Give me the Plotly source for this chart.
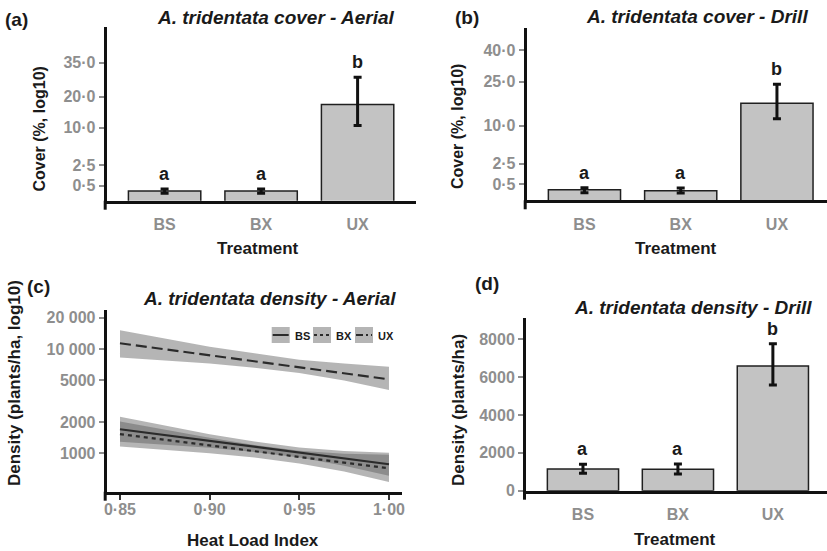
import numpy as np
import plotly.graph_objects as go

# ---------------- data ----------------
treatments = ["BS", "BX", "UX"]

# (a) A. tridentata cover - Aerial (%)
cover_aerial_mean = [0.23, 0.23, 17.2]
cover_aerial_lo = [0.145, 0.145, 10.6]
cover_aerial_hi = [0.32, 0.32, 28.1]
cover_aerial_letters = ["a", "a", "b"]
cover_aerial_ticks = [0.5, 2.5, 10.0, 20.0, 35.0]
cover_aerial_ticklabels = ["0·5", "2·5", "10·0", "20·0", "35·0"]

# (b) A. tridentata cover - Drill (%)
cover_drill_mean = [0.24, 0.20, 16.8]
cover_drill_lo = [0.13, 0.12, 11.9]
cover_drill_hi = [0.33, 0.31, 23.9]
cover_drill_letters = ["a", "a", "b"]
cover_drill_ticks = [0.5, 2.5, 10.0, 25.0, 40.0]
cover_drill_ticklabels = ["0·5", "2·5", "10·0", "25·0", "40·0"]

# (c) A. tridentata density - Aerial (plants/ha) vs Heat Load Index
hli_ends = [0.85, 1.00]
dens_bs_line = [1700, 785]
dens_bx_line = [1530, 718]
dens_ux_line = [11350, 5120]
hli_band = [0.85, 0.875, 0.90, 0.925, 0.95, 0.975, 1.00]
dens_bs_upper = [2240, 1840, 1520, 1300, 1140, 1050, 1010]
dens_bs_lower = [1290, 1210, 1130, 1030, 910, 760, 610]
dens_bx_upper = [2020, 1680, 1410, 1200, 1060, 990, 970]
dens_bx_lower = [1160, 1080, 1000, 910, 800, 670, 530]
dens_ux_upper = [15100, 12600, 10500, 9100, 7900, 7250, 6750]
dens_ux_lower = [8300, 7800, 7250, 6600, 5900, 5000, 4050]
dens_c_ticks = [1000, 2000, 5000, 10000, 20000]
dens_c_ticklabels = ["1000", "2000", "5000", "10 000", "20 000"]
hli_ticks = [0.85, 0.90, 0.95, 1.00]
hli_ticklabels = ["0·85", "0·90", "0·95", "1·00"]

# (d) A. tridentata density - Drill (plants/ha)
dens_drill_mean = [1150, 1130, 6580]
dens_drill_lo = [920, 880, 5580]
dens_drill_hi = [1390, 1410, 7760]
dens_drill_letters = ["a", "a", "b"]
dens_d_ticks = [0, 2000, 4000, 6000, 8000]
dens_d_ticklabels = ["0", "2000", "4000", "6000", "8000"]

# ---------------- style ----------------
W, H = 827, 551
FONT = "Liberation Sans, Arial, sans-serif"
TICKGRAY = "#8e8e8e"
AXCOL = "#111111"
BARFILL = "#c3c3c3"
BAREDGE = "#202020"
BANDFILL = "rgba(90,90,90,0.45)"
LINECOL = "#2b2b2b"


def fx(p):
    return p / W


def fy(p):
    return 1 - p / H


fig = go.Figure()


def add_bars(idx, mean, lo, hi, transform):
    m = transform(np.array(mean, dtype=float))
    l = transform(np.array(lo, dtype=float))
    h = transform(np.array(hi, dtype=float))
    suffix = "" if idx == 1 else str(idx)
    fig.add_trace(go.Bar(
        x=treatments, y=m, width=0.75,
        marker=dict(color=BARFILL, line=dict(color=BAREDGE, width=1.5)),
        error_y=dict(type="data", symmetric=False, array=h - m, arrayminus=m - l,
                     thickness=3, width=4, color=AXCOL),
        xaxis="x" + suffix, yaxis="y" + suffix, showlegend=False,
    ))
    return h


sq = np.sqrt
ident = lambda v: v

h_a = add_bars(1, cover_aerial_mean, cover_aerial_lo, cover_aerial_hi, sq)
h_b = add_bars(2, cover_drill_mean, cover_drill_lo, cover_drill_hi, sq)
h_d = add_bars(4, dens_drill_mean, dens_drill_lo, dens_drill_hi, ident)

# (c) bands and lines
for up, lo in [(dens_bs_upper, dens_bs_lower), (dens_bx_upper, dens_bx_lower),
               (dens_ux_upper, dens_ux_lower)]:
    fig.add_trace(go.Scatter(
        x=hli_band + hli_band[::-1], y=up + lo[::-1], fill="toself",
        fillcolor=BANDFILL, line=dict(width=0), mode="lines",
        xaxis="x3", yaxis="y3", showlegend=False, hoverinfo="skip"))
for yv, dash in [(dens_bs_line, "solid"), (dens_bx_line, "4px,4px"),
                 (dens_ux_line, "11px,5px")]:
    fig.add_trace(go.Scatter(
        x=hli_ends, y=yv, mode="lines",
        line=dict(color=LINECOL, width=2.2, dash=dash),
        xaxis="x3", yaxis="y3", showlegend=False))

# ---------------- axes ----------------
tickfont = dict(family=FONT, size=16, color=TICKGRAY, weight="bold")
catfont = dict(family=FONT, size=16, color=TICKGRAY, weight="bold")

dom = {
    1: dict(x=[106.7, 415.5], y=[27, 200.7]),
    2: dict(x=[526.7, 827], y=[28, 200.3]),
    3: dict(x=[106.7, 401.7], y=[310, 491.7]),
    4: dict(x=[526, 827], y=[318.3, 490.7]),
}


def ax_common():
    return dict(showline=True, linewidth=3, linecolor=AXCOL, showgrid=False,
                zeroline=False, automargin=False)


layout = dict(
    width=W, height=H, margin=dict(l=0, r=0, t=0, b=0),
    paper_bgcolor="white", plot_bgcolor="white", showlegend=False,
    barmode="group", bargap=0.25,
)

for i in (1, 2, 3, 4):
    s = "" if i == 1 else str(i)
    d = dom[i]
    xa = ax_common()
    ya = ax_common()
    xa["domain"] = [fx(d["x"][0]), min(1.0, fx(d["x"][1]))]
    ya["domain"] = [fy(d["y"][1]), fy(d["y"][0])]
    xa["anchor"] = "y" + s
    ya["anchor"] = "x" + s
    ya.update(ticks="outside", ticklen=5, tickwidth=1.5, tickcolor=TICKGRAY,
              tickfont=tickfont)
    layout["xaxis" + s] = xa
    layout["yaxis" + s] = ya

# (a)
layout["xaxis"].update(type="category", range=[-0.6, 2.6], ticks="",
                       tickfont=catfont, ticklabelstandoff=7)
layout["yaxis"].update(range=[0.068, 7.43], tickvals=list(sq(cover_aerial_ticks)),
                       ticktext=cover_aerial_ticklabels)
# (b)
layout["xaxis2"].update(type="category", range=[-0.6, 2.52], ticks="",
                        tickfont=catfont, ticklabelstandoff=7)
layout["yaxis2"].update(range=[0.046, 7.24], tickvals=list(sq(cover_drill_ticks)),
                        ticktext=cover_drill_ticklabels)
# (c)
layout["xaxis3"].update(range=[0.8426, 1.0071], tickvals=hli_ticks,
                        ticktext=hli_ticklabels, ticks="outside", ticklen=5,
                        tickwidth=1.5, tickcolor="#333333", tickfont=tickfont,
                        ticklabelstandoff=-4)
layout["yaxis3"].update(type="log", range=[2.632, 4.374], tickvals=dens_c_ticks,
                        ticktext=dens_c_ticklabels)
# (d)
layout["xaxis4"].update(type="category", range=[-0.6, 2.57], ticks="",
                        tickfont=catfont, ticklabelstandoff=7)
layout["yaxis4"].update(range=[0, 9100], tickvals=dens_d_ticks,
                        ticktext=dens_d_ticklabels)

fig.update_layout(**layout)

# ---------------- annotations ----------------
ann = []


def txt(x, y, text, size, color="#1a1a1a", italic=False, angle=0, xanchor="center"):
    ann.append(dict(
        x=fx(x), y=fy(y), xref="paper", yref="paper", text=text, showarrow=False,
        xanchor=xanchor, yanchor="middle", textangle=angle,
        font=dict(family=FONT, size=size, color=color, weight="bold",
                  style="italic" if italic else "normal")))


# panel labels
txt(3, 20, "(a)", 19, xanchor="left")
txt(453, 18, "(b)", 19, xanchor="left")
txt(25, 286, "(c)", 19, xanchor="left")
txt(473, 283, "(d)", 19, xanchor="left")
# titles
txt(276, 17.5, "A. tridentata cover - Aerial", 19, italic=True)
txt(696.5, 16.5, "A. tridentata cover - Drill", 19, italic=True)
txt(269, 299, "A. tridentata density - Aerial", 19, italic=True)
txt(693, 307, "A. tridentata density - Drill", 19, italic=True)
# axis titles
txt(39, 129.5, "Cover (%, log10)", 16, angle=-90)
txt(458, 126, "Cover (%, log10)", 16, angle=-90)
txt(14, 383, "Density (plants/ha, log10)", 17, angle=-90)
txt(458, 410, "Density (plants/ha)", 17, angle=-90)
txt(257.5, 248, "Treatment", 17)
txt(676, 248, "Treatment", 17)
txt(253, 540, "Heat Load Index", 17)
txt(675, 539, "Treatment", 17)

# significance letters
for s, hi, letters in [("", h_a, cover_aerial_letters), ("2", h_b, cover_drill_letters),
                       ("4", h_d, dens_drill_letters)]:
    for c, v, L in zip(treatments, hi, letters):
        ann.append(dict(x=c, y=float(v), xref="x" + s, yref="y" + s, text=L,
                        showarrow=False, yanchor="middle", yshift=15,
                        font=dict(family=FONT, size=18, color="#1a1a1a", weight="bold")))

# legend for (c)
shapes = []
legend_items = [("BS", "solid", 271.7), ("BX", "3px,3px", 313), ("UX", "7px,3px,2px,3px", 355)]
for name, dash, x0 in legend_items:
    shapes.append(dict(type="rect", xref="paper", yref="paper",
                       x0=fx(x0), x1=fx(x0 + 18), y0=fy(343), y1=fy(327),
                       fillcolor=BANDFILL, line=dict(width=0)))
    shapes.append(dict(type="line", xref="paper", yref="paper",
                       x0=fx(x0 + 1), x1=fx(x0 + 17), y0=fy(335), y1=fy(335),
                       line=dict(color=LINECOL, width=2, dash=dash)))
    txt(x0 + 21, 335.5, name, 11, xanchor="left")

# y-axis line extension below the baseline
for i in (1, 2, 3, 4):
    d = dom[i]
    xl = d["x"][0] - 1.5
    shapes.append(dict(type="line", xref="paper", yref="paper",
                       x0=fx(xl), x1=fx(xl), y0=fy(d["y"][1]), y1=fy(d["y"][1] + 9),
                       line=dict(color=AXCOL, width=3)))

fig.update_layout(annotations=ann, shapes=shapes)

fig.write_html("out.html")
